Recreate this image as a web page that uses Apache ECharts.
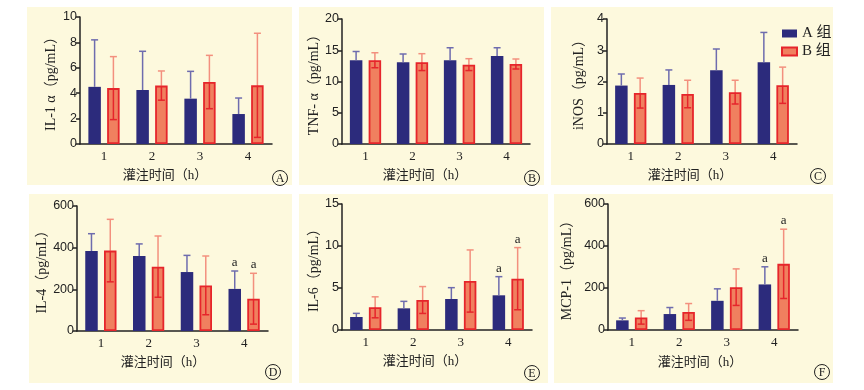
<!DOCTYPE html>
<html><head><meta charset="utf-8">
<script src="https://cdn.jsdelivr.net/npm/echarts/dist/echarts.min.js"></script>
<style>html,body{margin:0;padding:0;background:#fff}#c{width:864px;height:390px}</style>
</head><body><div id="c"></div>
<script>
// ---------- data ----------
const categories = ['1', '2', '3', '4'];
const xName = '灌注时间（h）';
const groupNames = ['A 组', 'B 组'];

const il1aA = [4.5, 4.25, 3.57, 2.36];
const il1aAErr = [3.7, 3.05, 2.15, 1.26];
const il1aB = [4.4, 4.6, 4.88, 4.62];
const il1aBErr = [2.48, 1.15, 2.1, 4.1];

const tnfA = [13.4, 13.1, 13.4, 14.1];
const tnfAErr = [1.4, 1.3, 2.0, 1.3];
const tnfB = [13.4, 13.1, 12.7, 12.8];
const tnfBErr = [1.2, 1.35, 0.95, 0.8];

const inosA = [1.87, 1.89, 2.36, 2.62];
const inosAErr = [0.37, 0.48, 0.68, 0.95];
const inosB = [1.63, 1.60, 1.66, 1.88];
const inosBErr = [0.48, 0.44, 0.38, 0.58];

const il4A = [384, 360, 283, 202];
const il4AErr = [83, 58, 80, 86];
const il4B = [386, 309, 219, 155];
const il4BErr = [150, 147, 141, 122];

const il6A = [1.55, 2.58, 3.69, 4.13];
const il6AErr = [0.43, 0.83, 1.35, 2.22];
const il6B = [2.7, 3.57, 5.83, 6.11];
const il6BErr = [1.25, 1.6, 3.7, 3.7];

const mcpA = [46, 76, 139, 217];
const mcpAErr = [11, 31, 57, 84];
const mcpB = [60, 86, 204, 315];
const mcpBErr = [32, 40, 87, 165];

const sigNone = ['', '', '', ''];
const sigLast = ['', '', '', 'a'];

const yNames = ['IL-1 α（pg/mL）', 'TNF- α（pg/mL）', 'iNOS（pg/mL）', 'IL-4（pg/mL）', 'IL-6（pg/mL）', 'MCP-1（pg/mL）'];
const yMax = [10, 20, 4, 600, 15, 600];
const yInterval = [2, 5, 1, 200, 5, 200];
const panelLetters = ['A', 'B', 'C', 'D', 'E', 'F'];

// ---------- layout / style ----------
const panels = [
  { a: il1aA, ae: il1aAErr, b: il1aB, be: il1aBErr, sig: sigNone },
  { a: tnfA, ae: tnfAErr, b: tnfB, be: tnfBErr, sig: sigNone },
  { a: inosA, ae: inosAErr, b: inosB, be: inosBErr, sig: sigNone },
  { a: il4A, ae: il4AErr, b: il4B, be: il4BErr, sig: sigLast },
  { a: il6A, ae: il6AErr, b: il6B, be: il6BErr, sig: sigLast },
  { a: mcpA, ae: mcpAErr, b: mcpB, be: mcpBErr, sig: sigLast }
];
const grids = [
  { left: 80, top: 17, width: 192, height: 127 },
  { left: 342, top: 19, width: 188, height: 125 },
  { left: 607, top: 19, width: 190, height: 125 },
  { left: 77, top: 206, width: 191, height: 125 },
  { left: 342, top: 204, width: 190, height: 126 },
  { left: 608, top: 204, width: 190, height: 126 }
];
const nameGaps = [22, 21, 21, 26, 21, 34];
const bgRects = [
  [27, 7, 265, 178], [299, 7, 245, 178], [551, 7, 282, 178],
  [29, 194, 263, 189], [299, 194, 249, 189], [554, 194, 279, 189]
];
const xNamePos = [[165, 176], [425, 176], [690, 176], [163, 363], [425, 362], [700, 363]];
const letterPos = [[280, 178], [532, 178], [818, 176], [273, 372], [532, 373], [822, 372]];

const NAVY = '#2c2b7c';
const NAVY_ERR = '#6e6cae';
const SALMON = '#f0805f';
const RED = '#e6252b';
const RED_ERR_UP = '#f3907e';
const BAR_W = 12.5;
const OFFSET = 9.4;
const SERIF = '"Liberation Serif","Noto Sans CJK SC",serif';
const SANS = '"Liberation Sans",Arial,sans-serif';

const option = {
  backgroundColor: '#ffffff',
  animation: false,
  grid: grids.map(g => Object.assign({ containLabel: false }, g)),
  legend: {
    data: groupNames, orient: 'vertical', left: 776, top: 21,
    itemWidth: 15, itemHeight: 8, itemGap: 3, icon: 'rect',
    textStyle: { fontFamily: SERIF, fontSize: 15, color: '#222' }
  },
  xAxis: [], yAxis: [], series: [], graphic: []
};

panels.forEach((p, gi) => {
  option.xAxis.push({
    type: 'category', gridIndex: gi, data: categories,
    axisLine: { lineStyle: { color: '#222', width: 1.5 } },
    axisTick: { alignWithLabel: true, length: 4, lineStyle: { color: '#222', width: 1.5 } },
    axisLabel: { fontFamily: SERIF, fontSize: 13, color: '#222', margin: 6 }
  });
  option.yAxis.push({
    type: 'value', gridIndex: gi, min: 0, max: yMax[gi], interval: yInterval[gi],
    name: yNames[gi], nameLocation: 'middle', nameRotate: 90, nameGap: nameGaps[gi],
    nameTextStyle: { fontFamily: SERIF, fontSize: 14, color: '#222' },
    axisLine: { show: true, lineStyle: { color: '#222', width: 1.5 } },
    axisTick: { show: true, length: 4, lineStyle: { color: '#222', width: 1.5 } },
    axisLabel: { fontFamily: SANS, fontSize: 12.5, color: '#222', margin: 3 },
    splitLine: { show: false }
  });
  option.series.push({
    name: groupNames[0], type: 'bar', xAxisIndex: gi, yAxisIndex: gi,
    data: p.a, barWidth: BAR_W, barGap: '50%',
    itemStyle: { color: NAVY }
  });
  option.series.push({
    name: groupNames[1], type: 'bar', xAxisIndex: gi, yAxisIndex: gi,
    data: p.b, barWidth: BAR_W, barGap: '50%',
    itemStyle: { color: SALMON, borderColor: RED, borderWidth: 1.8 }
  });
  [0, 1].forEach(side => {
    const means = side === 0 ? p.a : p.b;
    const errs = side === 0 ? p.ae : p.be;
    option.series.push({
      name: 'err' + gi + '_' + side, type: 'custom', xAxisIndex: gi, yAxisIndex: gi, z: 5,
      data: means.map((m, i) => [i, m, errs[i]]),
      renderItem: function (params, api) {
        const i = api.value(0), m = api.value(1), e = api.value(2);
        const c = api.coord([i, m]);
        const x = c[0] + (side === 0 ? -OFFSET : OFFSET);
        const yTop = api.coord([i, m + e])[1];
        const yBot = api.coord([i, m - e])[1];
        const upColor = side === 0 ? NAVY_ERR : RED_ERR_UP;
        const ch = [
          { type: 'line', shape: { x1: x, y1: c[1], x2: x, y2: yTop }, style: { stroke: upColor, lineWidth: 1.5 } },
          { type: 'line', shape: { x1: x - 3.5, y1: yTop, x2: x + 3.5, y2: yTop }, style: { stroke: upColor, lineWidth: 1.5 } }
        ];
        if (side === 1) {
          ch.push({ type: 'line', shape: { x1: x, y1: c[1], x2: x, y2: yBot }, style: { stroke: RED, lineWidth: 1.5 } });
          ch.push({ type: 'line', shape: { x1: x - 3.5, y1: yBot, x2: x + 3.5, y2: yBot }, style: { stroke: RED, lineWidth: 1.5 } });
        }
        const s = p.sig[params.dataIndex];
        if (s) {
          ch.push({ type: 'text', x: x, y: yTop - 2, style: { text: s, fontFamily: SERIF, fontSize: 13, fill: '#222', align: 'center', verticalAlign: 'bottom' } });
        }
        return { type: 'group', children: ch };
      }
    });
  });
  const r = bgRects[gi];
  option.graphic.push({ type: 'rect', z: -10, silent: true, shape: { x: r[0], y: r[1], width: r[2], height: r[3] }, style: { fill: '#fdf9dd' } });
  option.graphic.push({ type: 'text', z: 10, x: xNamePos[gi][0], y: xNamePos[gi][1], style: { text: xName, fontFamily: SERIF, fontSize: 13, fill: '#222', align: 'center', verticalAlign: 'middle' } });
  option.graphic.push({ type: 'circle', z: 10, shape: { cx: letterPos[gi][0], cy: letterPos[gi][1], r: 7.5 }, style: { fill: 'none', stroke: '#222', lineWidth: 1 } });
  option.graphic.push({ type: 'text', z: 10, x: letterPos[gi][0], y: letterPos[gi][1] + 0.5, style: { text: panelLetters[gi], fontFamily: SERIF, fontSize: 12, fill: '#222', align: 'center', verticalAlign: 'middle' } });
});

const chart = echarts.init(document.getElementById('c'), null, { renderer: 'canvas' });
chart.setOption(option);
</script>
</body></html>
